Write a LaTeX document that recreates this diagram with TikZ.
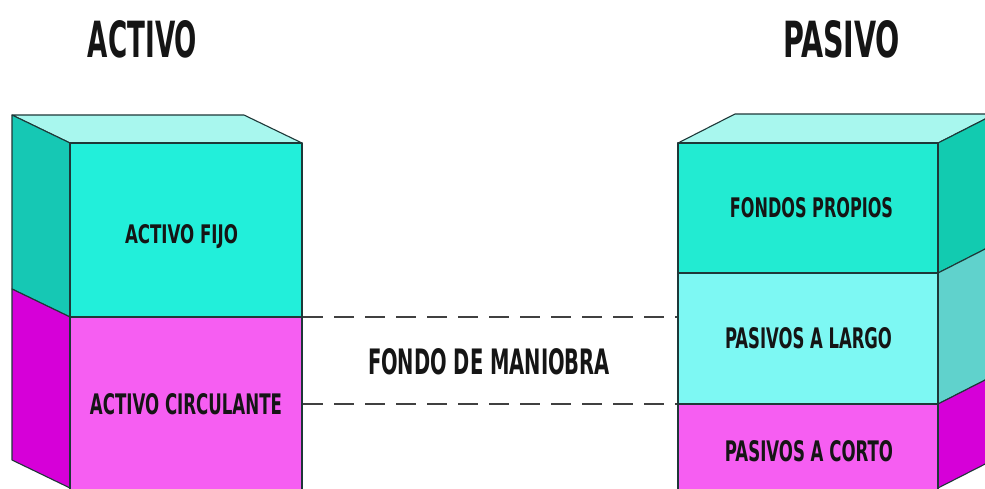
\documentclass[tikz,border=0pt]{standalone}
\usepackage{graphicx}
\usepackage{fontspec}
\setmainfont{DejaVu Sans Condensed}[BoldFont={DejaVu Sans Condensed Bold}]
\definecolor{cyanF}{HTML}{22EFDA}
\definecolor{cyanS}{HTML}{16C8B4}
\definecolor{cyanT}{HTML}{A8F7EE}
\definecolor{fpF}{HTML}{22EBD2}
\definecolor{fpS}{HTML}{12CBB0}
\definecolor{lgF}{HTML}{7DF8F3}
\definecolor{lgS}{HTML}{60D2CC}
\definecolor{magF}{HTML}{F65EF2}
\definecolor{magS}{HTML}{D600D8}
\definecolor{edge}{HTML}{1E3838}
\definecolor{txt}{HTML}{151515}
\definecolor{dashc}{HTML}{404040}
\newcommand{\fitt}[3]{\resizebox{#1pt}{#2pt}{\bfseries #3}}
\tikzset{
  face/.style={draw=edge, line width=1.1pt, line join=round},
  lbl/.style={inner sep=0pt, text depth=0pt, text=txt, anchor=center},
  dashline/.style={draw=dashc, line width=1.8pt, dash pattern=on 20pt off 11pt}
}
\begin{document}
\begin{tikzpicture}[x=1pt,y=-1pt]
\useasboundingbox (0,0) rectangle (985,488);
\fill[white] (0,0) rectangle (985,488);
\begin{scope}
\clip (0,0) rectangle (985,488);
% ---- left block (ACTIVO)
\filldraw[face, fill=cyanT] (12,115) -- (244,115) -- (302,143) -- (70,143) -- cycle;
\filldraw[face, fill=cyanS] (12,115) -- (70,143) -- (70,317) -- (12,289) -- cycle;
\filldraw[face, fill=magS] (12,289) -- (70,317) -- (70,488) -- (12,460) -- cycle;
\filldraw[face, fill=cyanF] (70,143) rectangle (302,317);
\filldraw[face, fill=magF] (70,317) rectangle (302,492);
% ---- right block (PASIVO)
\filldraw[face, fill=cyanT] (678,143) -- (735,114) -- (995,114) -- (938,143) -- cycle;
\filldraw[face, fill=fpS] (938,143) -- (995,114) -- (995,244) -- (938,273) -- cycle;
\filldraw[face, fill=lgS] (938,273) -- (995,244) -- (995,375) -- (938,404) -- cycle;
\filldraw[face, fill=magS] (938,404) -- (995,375) -- (995,459) -- (938,488) -- cycle;
\filldraw[face, fill=fpF] (678,143) rectangle (938,273);
\filldraw[face, fill=lgF] (678,273) rectangle (938,404);
\filldraw[face, fill=magF] (678,404) rectangle (938,492);
\end{scope}
% ---- connector anchors
\coordinate (la) at (303,317);
\coordinate (ra) at (677,317);
\coordinate (lb) at (303,404);
\coordinate (rb) at (677,404);
\draw[dashline] (la) -- (ra);
\draw[dashline] (lb) -- (rb);
% ---- labels
\node[lbl] (tact) at (142.5,38.5) {\fitt{109}{37}{ACTIVO}};
\node[lbl] (tpas) at (841.5,38.5) {\fitt{117}{37}{PASIVO}};
\node[lbl] (afijo) at (181.5,234) {\fitt{113}{19}{ACTIVO FIJO}};
\node[lbl] (acirc) at (186,404) {\fitt{192}{21}{ACTIVO CIRCULANTE}};
\node[lbl] (fman) at (489,361) {\fitt{242}{26}{FONDO DE MANIOBRA}};
\node[lbl] (fprop) at (811.5,207) {\fitt{163}{20}{FONDOS PROPIOS}};
\node[lbl] (plargo) at (808.5,337.5) {\fitt{167}{21}{PASIVOS A LARGO}};
\node[lbl] (pcorto) at (809,451) {\fitt{168}{21}{PASIVOS A CORTO}};
\end{tikzpicture}
\end{document}
